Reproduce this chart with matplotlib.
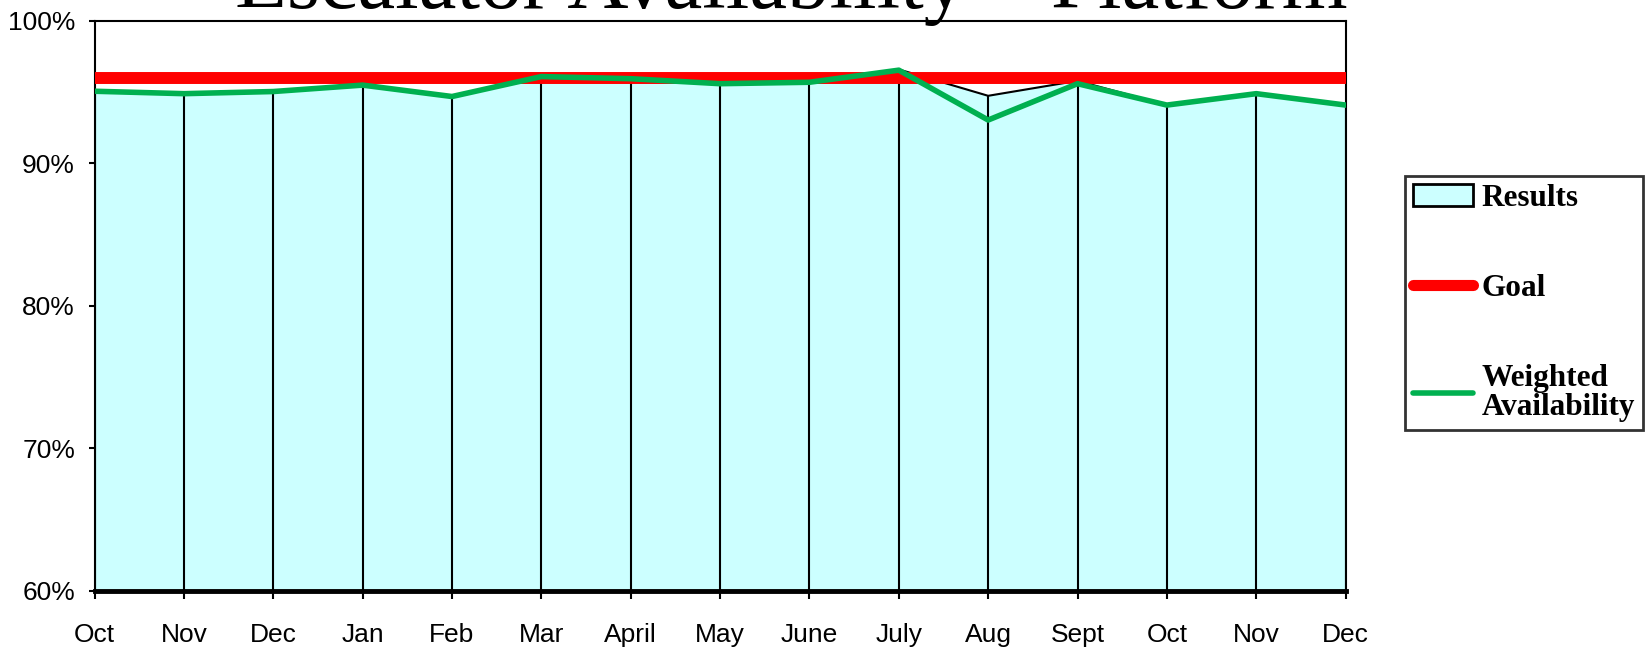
import numpy as np
import matplotlib
matplotlib.use("Agg")
import matplotlib.pyplot as plt
from matplotlib.patches import Patch
from matplotlib.lines import Line2D

# chart data
months = ['Oct', 'Nov', 'Dec', 'Jan', 'Feb', 'Mar', 'April', 'May', 'June',
          'July', 'Aug', 'Sept', 'Oct', 'Nov', 'Dec']
results = [95.1, 94.9, 95.05, 95.5, 94.7, 96.1, 96.2, 95.6, 95.7,
           96.6, 94.75, 95.8, 94.1, 94.9, 94.1]
weighted = [95.07, 94.9, 95.05, 95.5, 94.7, 96.1, 95.95, 95.6, 95.7,
            96.55, 93.05, 95.6, 94.1, 94.9, 94.1]
goal = [96.0] * len(months)
yticks = [60, 70, 80, 90, 100]

fig = plt.figure(figsize=(16.47, 6.52), dpi=100)
ax = fig.add_axes([0.0574, 0.0936, 0.7596, 0.8742])

x = np.arange(len(months))

# results area with drop lines
ax.fill_between(x, 60, results, color='#CCFFFF', zorder=1)
ax.vlines(x, 60, results, color='black', linewidth=1.5, zorder=2)
ax.plot(x, results, color='black', linewidth=1.5, zorder=2)

# goal and weighted availability
ax.plot(x, goal, color='#FF0000', linewidth=8.6, solid_capstyle='butt', zorder=3)
ax.plot(x, weighted, color='#00B050', linewidth=4, zorder=4)

ax.set_xlim(0, len(months) - 1)
ax.set_ylim(60, 100)
ax.set_yticks(yticks)
ax.set_yticklabels([f'{t}%' for t in yticks], fontsize=19, family='Liberation Sans')
ax.set_xticks(x)
ax.set_xticklabels(months, fontsize=19, family='Liberation Sans')
ax.tick_params(axis='x', direction='out', length=6, width=1.5, pad=17)
ax.tick_params(axis='y', direction='out', length=4, width=1.5, pad=10)

for side in ['top', 'right', 'left']:
    ax.spines[side].set_linewidth(1.5)
ax.spines['bottom'].set_linewidth(3.5)

# title, cut off at top like the original
fig.text(0.4806, 1 - 8.5 / 652, 'Escalator Availability \u2013 Platform',
         ha='center', va='baseline', fontsize=61, family='Liberation Serif')

# legend
handles = [
    Patch(facecolor='#CCFFFF', edgecolor='black', linewidth=2),
    Line2D([], [], color='#FF0000', linewidth=8, solid_capstyle='round'),
    Line2D([], [], color='#00B050', linewidth=4, solid_capstyle='round'),
]
labels = ['Results', 'Goal', 'Weighted\nAvailability']
leg = fig.legend(handles, labels, loc='upper left',
                 bbox_to_anchor=(1405 / 1647, 1 - 176 / 652),
                 prop={'family': 'Liberation Serif', 'weight': 'bold', 'size': 22.5},
                 frameon=True, fancybox=False, labelspacing=1.95,
                 handlelength=1.93, handletextpad=0.27, borderpad=0.25,
                 borderaxespad=0)
leg.get_frame().set_edgecolor('black')
leg.get_frame().set_linewidth(2)
leg.get_texts()[2].set_linespacing(1.0)

fig.savefig('out.png', dpi=100)
